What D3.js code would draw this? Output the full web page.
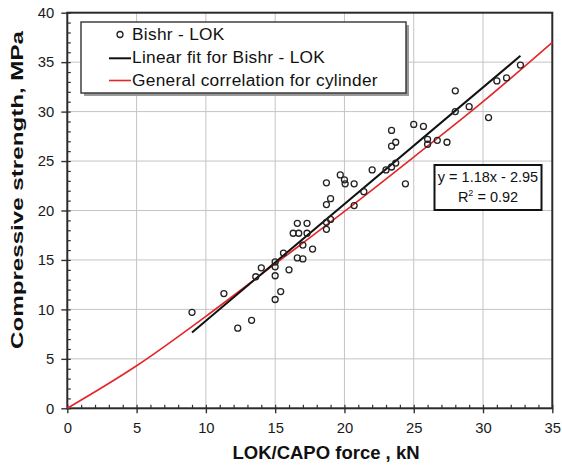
<!DOCTYPE html>
<html>
<head>
<meta charset="utf-8">
<script src="https://cdn.jsdelivr.net/npm/d3@7"></script>
<style>
  body { margin: 0; background: #fff; }
  svg { display: block; font-family: 'Liberation Sans', Arial, sans-serif; }
</style>
</head>
<body>
<div id="chart"></div>
<script>
// measured points, Bishr - LOK
const forceKN = [9.0, 11.3, 12.3, 13.3, 13.6, 14.0, 15.0, 15.0, 15.0, 15.0, 15.4, 15.6, 16.0,
  16.3, 16.6, 16.7, 16.6, 17.0, 17.0, 17.3, 17.3, 17.7, 18.7, 18.7, 19.0, 18.7, 18.7, 19.0,
  19.7, 20.0, 20.05, 20.7, 20.7, 21.4, 22.0, 23.0, 23.4, 23.7, 23.4, 23.7, 23.4, 24.4,
  25.0, 25.7, 26.0, 26.0, 26.7, 27.4, 28.0, 28.0, 29.0, 30.4, 31.0, 31.7, 32.7];
const strengthMPa = [9.7, 11.6, 8.1, 8.9, 13.3, 14.2, 14.8, 14.3, 13.4, 11.0, 11.8, 15.7, 14.0,
  17.7, 18.7, 17.7, 15.2, 15.1, 16.5, 18.7, 17.7, 16.1, 22.8, 20.6, 21.2, 18.8, 18.1, 19.1,
  23.6, 23.1, 22.7, 22.7, 20.5, 21.9, 24.1, 24.1, 24.4, 24.8, 26.5, 26.9, 28.1, 22.7,
  28.7, 28.5, 27.2, 26.7, 27.1, 26.9, 32.1, 30.0, 30.5, 29.4, 33.1, 33.4, 34.7];

// general correlation for cylinder
const cylinderForce = [0, 5, 10, 15, 20, 25, 30, 35];
const cylinderStrength = [0, 4.3, 9.3, 14.6, 19.9, 25.4, 31.0, 37.0];

// linear fit
const fitSlope = 1.18;
const fitIntercept = -2.95;
const fitRange = [9.0, 32.7];
const fitLabel = 'y = 1.18x - 2.95';
const r2Value = '0.92';

const xTickValues = [0, 5, 10, 15, 20, 25, 30, 35];
const yTickValues = [0, 5, 10, 15, 20, 25, 30, 35, 40];
const legendLabels = ['Bishr - LOK', 'Linear fit for Bishr - LOK', 'General correlation for cylinder'];

const width = 562, height = 465;
const plotLeft = 67.3, plotRight = 552.3, plotTop = 12.7, plotBottom = 408.3;

const svg = d3.select('#chart').append('svg')
    .attr('width', width)
    .attr('height', height);

const x = d3.scaleLinear().domain([0, 35]).range([plotLeft, plotRight]);
const y = d3.scaleLinear().domain([0, 40]).range([plotBottom, plotTop]);

//grid
svg.append('g').selectAll('line')
    .data(xTickValues.slice(1, -1))
    .enter().append('line')
    .attr('x1', d => x(d)).attr('x2', d => x(d))
    .attr('y1', plotTop).attr('y2', plotBottom)
    .attr('stroke', '#c4c4c4').attr('stroke-width', 1);
svg.append('g').selectAll('line')
    .data(yTickValues.slice(1, -1))
    .enter().append('line')
    .attr('x1', plotLeft).attr('x2', plotRight)
    .attr('y1', d => y(d)).attr('y2', d => y(d))
    .attr('stroke', '#c4c4c4').attr('stroke-width', 1);

// minor ticks (inside)
const minorX = svg.append('g')
    .attr('transform', `translate(0,${plotBottom})`)
    .call(d3.axisTop(x).tickValues(d3.range(0, 36, 1)).tickSize(3.5).tickFormat(''));
const minorY = svg.append('g')
    .attr('transform', `translate(${plotLeft},0)`)
    .call(d3.axisRight(y).tickValues(d3.range(0, 41, 1)).tickSize(3.5).tickFormat(''));
[minorX, minorY].forEach(g => {
    g.select('.domain').remove();
    g.selectAll('line').attr('stroke', '#333').attr('stroke-width', 1.2);
});

// major ticks (outside) with labels
const xAxis = svg.append('g')
    .attr('transform', `translate(0,${plotBottom})`)
    .call(d3.axisBottom(x).tickValues(xTickValues).tickSize(5).tickPadding(9));
const yAxis = svg.append('g')
    .attr('transform', `translate(${plotLeft},0)`)
    .call(d3.axisLeft(y).tickValues(yTickValues).tickSize(6).tickPadding(7));
[xAxis, yAxis].forEach(g => {
    g.select('.domain').remove();
    g.selectAll('line').attr('stroke', '#333').attr('stroke-width', 1.4);
    g.selectAll('text')
        .attr('font-family', "'Liberation Sans', Arial, sans-serif")
        .attr('font-size', 14.8)
        .attr('fill', '#1a1a1a');
});

// frame
svg.append('rect')
    .attr('x', plotLeft).attr('y', plotTop)
    .attr('width', plotRight - plotLeft).attr('height', plotBottom - plotTop)
    .attr('fill', 'none')
    .attr('stroke', '#2a2a2a')
    .attr('stroke-width', 2);

// red correlation curve
const cylinderData = cylinderForce.map((f, i) => [f, cylinderStrength[i]]);
svg.append('path')
    .datum(cylinderData)
    .attr('d', d3.line().x(d => x(d[0])).y(d => y(d[1])).curve(d3.curveMonotoneX))
    .attr('fill', 'none')
    .attr('stroke', '#e3262a')
    .attr('stroke-width', 1.6);

// linear fit
svg.append('line')
    .attr('x1', x(fitRange[0])).attr('y1', y(fitSlope * fitRange[0] + fitIntercept))
    .attr('x2', x(fitRange[1])).attr('y2', y(fitSlope * fitRange[1] + fitIntercept))
    .attr('stroke', '#111')
    .attr('stroke-width', 2);

// points
svg.append('g').selectAll('circle')
    .data(forceKN.map((f, i) => ({f: f, s: strengthMPa[i]})))
    .enter().append('circle')
    .attr('cx', d => x(d.f))
    .attr('cy', d => y(d.s))
    .attr('r', 3)
    .attr('fill', 'none')
    .attr('stroke', '#222')
    .attr('stroke-width', 1.3);

// legend
const legend = svg.append('g');
legend.append('rect')
    .attr('x', 84).attr('y', 25).attr('width', 325).attr('height', 71)
    .attr('fill', '#9a9a9a');
legend.append('rect')
    .attr('x', 81).attr('y', 22).attr('width', 325).attr('height', 71)
    .attr('fill', '#fff')
    .attr('stroke', '#333')
    .attr('stroke-width', 1.4);
legend.append('circle')
    .attr('cx', 120).attr('cy', 34.5).attr('r', 3)
    .attr('fill', 'none').attr('stroke', '#222').attr('stroke-width', 1.3);
legend.append('line')
    .attr('x1', 109).attr('x2', 131).attr('y1', 58.3).attr('y2', 58.3)
    .attr('stroke', '#111').attr('stroke-width', 2);
legend.append('line')
    .attr('x1', 109).attr('x2', 131).attr('y1', 80.5).attr('y2', 80.5)
    .attr('stroke', '#e3262a').attr('stroke-width', 1.6);
legend.selectAll('text')
    .data(legendLabels)
    .enter().append('text')
    .attr('x', 132)
    .attr('y', (d, i) => 40 + i * 23)
    .attr('font-size', 17.3)
    .attr('letter-spacing', 0.3)
    .attr('fill', '#111')
    .text(d => d);

// equation box
const eq = svg.append('g');
eq.append('rect')
    .attr('x', 434.5).attr('y', 165).attr('width', 107).attr('height', 45)
    .attr('fill', '#fff')
    .attr('stroke', '#111')
    .attr('stroke-width', 2);
eq.append('text')
    .attr('x', 488).attr('y', 182)
    .attr('text-anchor', 'middle')
    .attr('font-size', 14.5)
    .attr('fill', '#111')
    .text(fitLabel);
const r2 = eq.append('text')
    .attr('x', 488).attr('y', 202)
    .attr('text-anchor', 'middle')
    .attr('font-size', 14.5)
    .attr('fill', '#111');
r2.append('tspan').text('R');
r2.append('tspan').attr('font-size', 9).attr('dy', -6).text('2');
r2.append('tspan').attr('dy', 6).text(' = ' + r2Value);

// axis titles
svg.append('text')
    .attr('x', 326).attr('y', 459)
    .attr('text-anchor', 'middle')
    .attr('font-size', 18.5)
    .attr('font-weight', 'bold')
    .attr('fill', '#111')
    .text('LOK/CAPO force , kN');
svg.append('text')
    .attr('transform', 'translate(23,190) rotate(-90)')
    .attr('text-anchor', 'middle')
    .attr('font-size', 17)
    .attr('font-weight', 'bold')
    .attr('fill', '#111')
    .attr('textLength', 318)
    .attr('lengthAdjust', 'spacingAndGlyphs')
    .text('Compressive strength, MPa');
</script>
</body>
</html>
